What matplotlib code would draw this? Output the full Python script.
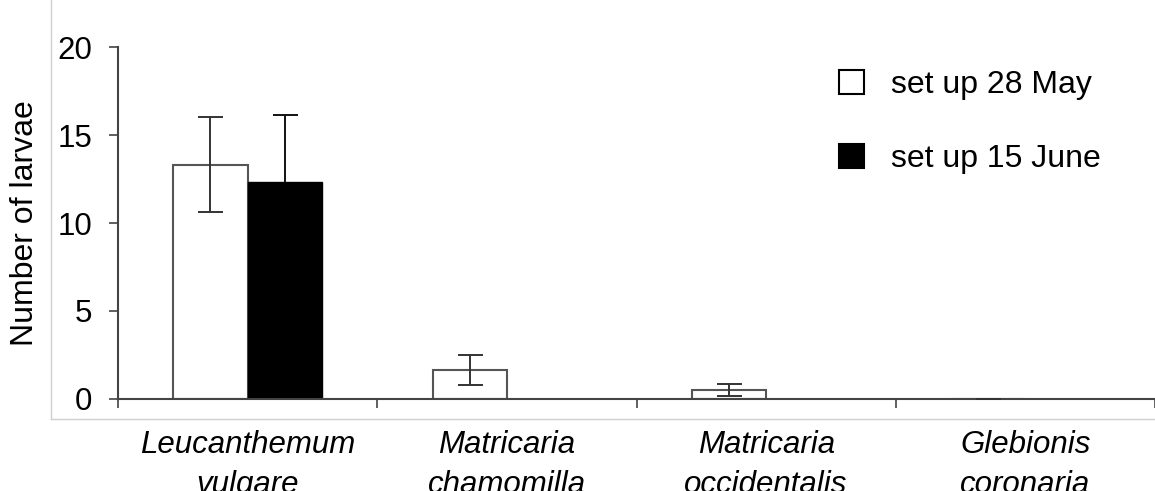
import matplotlib
matplotlib.use("Agg")
import matplotlib.pyplot as plt
import numpy as np
from matplotlib.patches import Patch
from matplotlib.lines import Line2D

plt.rcParams['font.family'] = ['Liberation Sans', 'DejaVu Sans']

species = ["Leucanthemum\nvulgare", "Matricaria\nchamomilla",
           "Matricaria\noccidentalis", "Glebionis\ncoronaria"]
may_mean = [13.3, 1.66, 0.5, 0.0]
may_err = [2.7, 0.85, 0.35, 0.0]
june_mean = [12.35, 0.0, 0.0, 0.0]
june_err = [3.77, 0.0, 0.0, 0.0]
series_labels = ["set up 28 May", "set up 15 June"]
y_ticks = [0, 5, 10, 15, 20]

fig = plt.figure(figsize=(11.55, 4.91), dpi=100)
ax = fig.add_axes([118 / 1155, 1 - 399 / 491, 1 - 118 / 1155, (399 - 47) / 491])

x = np.arange(len(species))
w = 0.2865
edge = "#555555"

ax.bar(x - w / 2, may_mean, width=w, color="white", edgecolor=edge, linewidth=1.5,
       zorder=2)
ax.errorbar(x - w / 2, may_mean, yerr=may_err, fmt="none", ecolor="#333333",
            elinewidth=1.4, capsize=9, capthick=1.4, zorder=3)
ax.errorbar(x + w / 2, june_mean, yerr=june_err, fmt="none", ecolor="#111111",
            elinewidth=1.4, capsize=9, capthick=1.4, zorder=1)
ax.bar(x + w / 2, june_mean, width=w, color="black", edgecolor="black",
       linewidth=1.0, zorder=2)

ax.set_xlim(-0.5, len(species) - 0.5)
ax.set_ylim(0, 20)
ax.set_yticks(y_ticks)
ax.set_yticklabels([str(t) for t in y_ticks])
ax.set_xticks(x)
ax.set_xticklabels(species, fontsize=22.5, style="italic", linespacing=1.45)
ax.set_xticks(np.arange(len(species) + 1) - 0.5, minor=True)
ax.tick_params(axis="x", which="major", length=0, pad=22)
ax.tick_params(axis="x", which="minor", length=6.5, width=1.2, color="#444444",
               direction="out")
ax.tick_params(axis="y", length=6.5, width=1.2, color="#444444", labelsize=22.5,
               pad=12)
for s in ("top", "right"):
    ax.spines[s].set_visible(False)
for s in ("left", "bottom"):
    ax.spines[s].set_color("#444444")
    ax.spines[s].set_linewidth(1.5)
ax.set_ylabel("Number of larvae", fontsize=23)
ax.yaxis.set_label_coords(-0.075, 0.5)

handles = [Patch(facecolor="white", edgecolor="black", linewidth=1.5),
           Patch(facecolor="black", edgecolor="black", linewidth=1.5)]
ax.legend(handles, series_labels, loc="upper left", bbox_to_anchor=(0.68, 0.98),
          frameon=False, fontsize=23, handlelength=0.78, handleheight=0.78,
          labelspacing=1.38, handletextpad=0.85, borderpad=0)

# faint frame lines along the left and bottom edges
fig.add_artist(Line2D([51 / 1155, 51 / 1155], [1, 1 - 419 / 491],
                      transform=fig.transFigure, color="#d0d0d0", lw=1))
fig.add_artist(Line2D([51 / 1155, 1], [1 - 419 / 491, 1 - 419 / 491],
                      transform=fig.transFigure, color="#d0d0d0", lw=1))

fig.savefig("out.png", dpi=100)
